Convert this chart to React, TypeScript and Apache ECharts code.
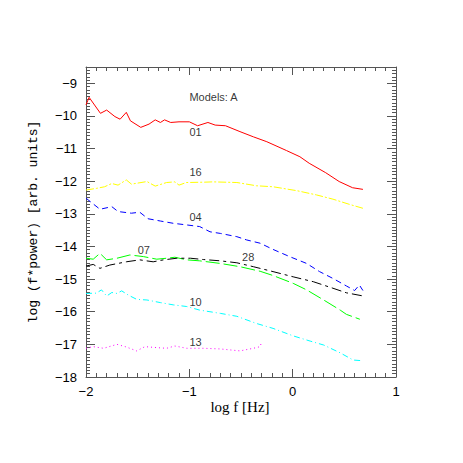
import React, { useEffect, useRef } from 'react';
import * as echarts from 'echarts';

// Model 01 (red, solid)
const x01 = [-2.0, -1.97, -1.86, -1.8, -1.72, -1.67, -1.61, -1.57, -1.47, -1.39, -1.33, -1.28, -1.24, -1.18, -1.1, -1.0, -0.92, -0.82, -0.75, -0.65, -0.51, -0.38, -0.25, -0.06, 0.07, 0.16, 0.32, 0.45, 0.58, 0.68];
const y01 = [-9.66, -9.43, -9.92, -9.82, -10.02, -10.1, -9.89, -10.15, -10.35, -10.25, -10.12, -10.2, -10.12, -10.2, -10.18, -10.18, -10.3, -10.2, -10.28, -10.3, -10.48, -10.64, -10.79, -11.06, -11.25, -11.45, -11.74, -12.01, -12.2, -12.25];
// Model 16 (yellow)
const x16 = [-2, -1.9, -1.82, -1.75, -1.69, -1.61, -1.56, -1.41, -1.33, -1.22, -1.14, -1.1, -1.03, -0.86, -0.77, -0.54, -0.35, -0.19, 0.04, 0.23, 0.39, 0.55, 0.68];
const y16 = [-12.27, -12.22, -12.17, -12.07, -12.12, -11.96, -12.09, -12.01, -12.15, -12.04, -12.02, -12.12, -12.04, -12.03, -12.02, -12.04, -12.14, -12.17, -12.29, -12.42, -12.55, -12.71, -12.83];
// Model 04 (blue)
const x04 = [-2, -1.865, -1.75, -1.69, -1.56, -1.48, -1.4, -1.28, -1.155, -1.025, -0.9, -0.8, -0.7, -0.54, -0.445, -0.315, -0.19, -0.03, 0.135, 0.26, 0.39, 0.52, 0.6, 0.645, 0.68];
const y04 = [-12.52, -12.86, -12.78, -12.93, -12.98, -12.95, -13.15, -13.22, -13.29, -13.34, -13.39, -13.55, -13.6, -13.7, -13.8, -13.9, -14.09, -14.31, -14.52, -14.77, -14.98, -15.21, -15.35, -15.18, -15.35];
// Model 07 (green)
const x07 = [-2, -1.93, -1.865, -1.8, -1.7, -1.575, -1.445, -1.315, -1.22, -1.14, -1.025, -0.9, -0.7, -0.51, -0.315, -0.19, 0.005, 0.135, 0.3, 0.46, 0.52, 0.65];
const y07 = [-14.36, -14.39, -14.21, -14.41, -14.36, -14.26, -14.31, -14.39, -14.36, -14.33, -14.41, -14.44, -14.52, -14.62, -14.76, -14.89, -15.13, -15.33, -15.64, -15.95, -16.08, -16.23];
// Model 28 (black)
const x28 = [-2, -1.93, -1.865, -1.77, -1.61, -1.48, -1.35, -1.25, -1.12, -0.99, -0.865, -0.7, -0.54, -0.38, -0.19, 0.005, 0.2, 0.39, 0.52, 0.67];
const y28 = [-14.6, -14.55, -14.67, -14.57, -14.47, -14.41, -14.47, -14.41, -14.36, -14.36, -14.4, -14.44, -14.5, -14.62, -14.77, -14.93, -15.08, -15.28, -15.42, -15.51];
// Model 10 (cyan)
const x10 = [-2, -1.9, -1.85, -1.8, -1.75, -1.7, -1.655, -1.59, -1.51, -1.41, -1.28, -1.155, -1.025, -0.9, -0.7, -0.54, -0.35, -0.19, 0.005, 0.17, 0.3, 0.46, 0.585, 0.67];
const y10 = [-15.44, -15.43, -15.33, -15.52, -15.41, -15.44, -15.36, -15.49, -15.62, -15.64, -15.72, -15.79, -15.84, -15.95, -16.05, -16.14, -16.36, -16.51, -16.74, -16.9, -17.02, -17.26, -17.48, -17.5];
// Model 13 (magenta)
const x13 = [-2, -1.93, -1.83, -1.7, -1.61, -1.51, -1.43, -1.315, -1.22, -1.14, -1.025, -0.865, -0.7, -0.51, -0.38, -0.315, -0.3];
const y13 = [-17.12, -17.07, -17.12, -17.0, -17.08, -17.2, -17.07, -17.1, -17.12, -17.05, -17.12, -17.12, -17.14, -17.2, -17.12, -17.07, -16.92];

// In-plot annotations
const noteText = ['Models: A', '01', '16', '04', '07', '28', '10', '13'];
const noteX = [-1.0, -1.0, -1.0, -1.0, -1.5, -0.49, -1.0, -1.0];
const noteY = [-9.42, -10.49, -11.72, -13.1, -14.11, -14.32, -15.7, -16.93];

// Tick labels
const xTicks = [-2, -1, 0, 1];
const yTicks = [-18, -17, -16, -15, -14, -13, -12, -11, -10, -9];

const zip = (xs: number[], ys: number[]) => xs.map((x, i) => [x, ys[i]]);

export default function App() {
  const ref = useRef<HTMLDivElement>(null);
  useEffect(() => {
    const chart = echarts.init(ref.current!, null, { renderer: 'svg' });
    const fmt = (v: number) => String(v).replace('-', '\u2212');
    const ls = { color: '#555', width: 1 };
    const labelStyle = { fontSize: 13, color: '#000', fontFamily: 'Liberation Sans' };
    const xBase = (pos: string, showLabel: boolean) => ({
      type: 'value', min: -2, max: 1, interval: 1, position: pos,
      axisLine: { show: true, onZero: false, lineStyle: ls },
      axisTick: { show: true, inside: true, length: 8, lineStyle: ls, customValues: xTicks },
      minorTick: { show: true, splitNumber: 10, length: 4, lineStyle: ls },
      axisLabel: { show: showLabel, formatter: fmt, margin: 8, customValues: xTicks, ...labelStyle },
      splitLine: { show: false }, minorSplitLine: { show: false },
    });
    const yMajor = (pos: string, showLabel: boolean) => ({
      type: 'value', min: -18, max: -8.5, interval: 1, position: pos,
      axisLine: { show: true, onZero: false, lineStyle: ls },
      axisTick: { show: true, inside: true, length: 9, lineStyle: ls, customValues: yTicks },
      axisLabel: { show: showLabel, formatter: fmt, margin: 9, customValues: yTicks, ...labelStyle },
      splitLine: { show: false },
    });
    const yMinor = (pos: string) => ({
      type: 'value', min: -18, max: -8.5, interval: 0.1, position: pos,
      axisLine: { show: false, onZero: false },
      axisTick: { show: true, inside: true, length: 4, lineStyle: ls },
      axisLabel: { show: false },
      splitLine: { show: false },
    });
    const line = (name: string, xs: number[], ys: number[], color: string, type: any) => ({
      name, type: 'line', data: zip(xs, ys), symbol: 'none', silent: true,
      lineStyle: { color, width: 1, type },
    });
    chart.setOption({
      animation: false,
      backgroundColor: '#fff',
      grid: { left: 86, top: 67, width: 310, height: 310, outerBoundsMode: 'none', containLabel: false },
      xAxis: [xBase('bottom', true), xBase('top', false)],
      yAxis: [yMajor('left', true), yMinor('left'), yMajor('right', false), yMinor('right')],
      series: [
        line('01', x01, y01, '#ff0000', 'solid'),
        line('16', x16, y16, '#ffff00', [8, 2, 2, 2]),
        line('04', x04, y04, '#0000ff', [6, 4]),
        line('07', x07, y07, '#00ff00', [14, 4]),
        line('28', x28, y28, '#000000', [10, 4, 3, 4]),
        line('10', x10, y10, '#00ffff', [6, 3, 1, 3]),
        line('13', x13, y13, '#ff00ff', [1, 3]),
        {
          type: 'scatter', silent: true, symbolSize: 0.1,
          itemStyle: { color: 'transparent' },
          data: noteText.map((t, i) => ({ name: t, value: [noteX[i], noteY[i]] })),
          label: {
            show: true, position: 'right', distance: 0, formatter: '{b}',
            fontSize: 11, color: '#000', fontFamily: 'Liberation Sans',
          },
          z: 10,
        },
      ],
      graphic: [
        {
          type: 'text', x: 33, y: 222, rotation: Math.PI / 2,
          style: { text: 'log (f*power) [arb. units]', font: '13px "Liberation Mono"', fill: '#000', align: 'center', verticalAlign: 'middle' },
        },
        {
          type: 'text', x: 240, y: 407,
          style: { text: 'log f [Hz]', font: '15px "Liberation Serif"', fill: '#000', align: 'center', verticalAlign: 'middle' },
        },
      ],
    });
    return () => chart.dispose();
  }, []);
  return <div ref={ref} style={{ position: 'fixed', left: 0, top: 0, width: 463, height: 463, background: '#fff' }} />;
}
